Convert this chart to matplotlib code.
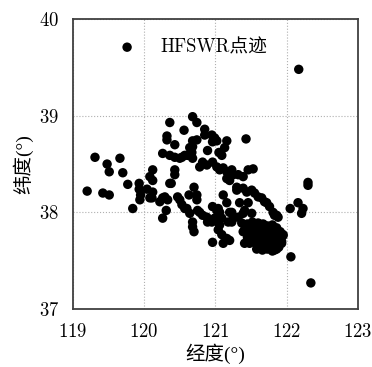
import numpy as np
import matplotlib
matplotlib.use('Agg')
import matplotlib.pyplot as plt

plt.rcParams['font.family'] = ['cmr10', 'Noto Sans CJK SC', 'DejaVu Sans']
plt.rcParams['axes.formatter.use_mathtext'] = True
plt.rcParams['font.size'] = 13.5

# HFSWR plot points (longitude, latitude)
lon = [119.20, 119.31, 119.42, 119.51, 119.48, 119.51, 119.66, 119.70, 119.77, 119.84,
       119.93, 119.93, 119.95, 119.94, 120.04, 120.11, 120.12, 120.08, 120.12, 120.12,
       120.08, 120.26, 120.32, 120.32, 120.36, 120.38, 120.43, 120.36, 120.43, 120.50,
       120.57, 120.56, 120.68, 120.74, 120.85, 120.85, 120.95, 120.99, 120.96, 121.02,
       121.16, 121.43, 120.68, 120.74, 120.68, 120.64, 120.67, 120.61, 120.68, 120.53,
       120.89, 121.05, 121.13, 121.09, 120.43, 120.43, 120.36, 120.82, 120.78, 120.88,
       120.96, 121.02, 121.06, 121.11, 121.16, 121.23, 121.25, 121.32, 121.39, 121.46,
       121.53, 121.16, 121.20, 121.30, 121.39, 121.44, 121.51, 121.55, 121.60, 121.65,
       121.69, 121.76, 121.81, 121.86, 121.72, 121.83, 121.88,
       120.26, 120.33, 120.31, 120.26, 120.22, 120.29, 120.47, 120.63, 120.74, 120.74,
       120.70, 120.53, 120.57, 120.64, 120.50, 120.60, 120.75, 120.82, 120.88, 120.78,
       120.89, 120.96, 121.02, 121.06, 121.04, 120.68, 120.68, 120.70, 121.11, 121.16,
       121.20, 121.25, 121.32, 121.09, 121.18, 120.95, 120.99, 121.02, 121.06, 121.04,
       121.09, 121.16, 121.11, 120.96, 121.20, 121.34, 121.39, 121.37, 121.41, 121.41,
       121.46, 121.41, 121.51, 121.23, 121.23, 121.39, 121.30,
       122.05, 122.16, 122.23, 122.21, 122.30, 122.30, 122.06, 122.34, 122.17,
       121.45, 121.52, 121.60, 121.67, 121.73, 121.80, 121.86,
       121.42, 121.48, 121.55, 121.62, 121.70, 121.77, 121.84, 121.91, 121.95,
       121.45, 121.52, 121.58, 121.66, 121.73, 121.80, 121.87, 121.93,
       121.48, 121.55, 121.62, 121.69, 121.76, 121.83, 121.89,
       121.58, 121.66, 121.73, 121.80, 121.86,
       121.50, 121.64, 121.76, 121.59, 121.73, 121.86, 121.52, 121.70, 121.84,
       121.95, 121.93, 121.83]
lat = [38.22, 38.57, 38.20, 38.18, 38.50, 38.42, 38.56, 38.41, 38.29, 38.04,
       38.30, 38.24, 38.18, 38.13, 38.24, 38.15, 38.44, 38.37, 38.33, 38.21,
       38.15, 38.61, 38.75, 38.79, 38.93, 38.30, 38.70, 38.59, 38.57, 38.56,
       38.59, 38.85, 38.99, 38.93, 38.86, 38.80, 38.80, 38.77, 38.73, 38.74,
       38.74, 38.76, 38.74, 38.75, 38.68, 38.67, 38.62, 38.59, 38.56, 38.57,
       38.64, 38.62, 38.67, 38.59, 38.44, 38.39, 38.30, 38.52, 38.47, 38.49,
       38.52, 38.47, 38.44, 38.46, 38.42, 38.44, 38.39, 38.39, 38.37, 38.44,
       38.45, 38.35, 38.33, 38.26, 38.25, 38.21, 38.23, 38.20, 38.16, 38.15,
       38.11, 38.06, 38.00, 37.97, 38.10, 37.97, 37.95,
       38.15, 38.13, 38.02, 37.94, 38.11, 38.16, 38.16, 38.18, 38.18, 38.13,
       38.26, 38.08, 38.04, 37.99, 38.13, 38.04, 38.02, 37.97, 37.95, 38.00,
       37.90, 38.06, 38.02, 38.00, 38.04, 37.90, 37.85, 37.80, 38.18, 38.10,
       38.00, 37.94, 37.95, 37.94, 37.90, 37.90, 37.94, 37.92, 37.87, 37.82,
       37.77, 37.73, 37.68, 37.69, 37.71, 38.10, 37.99, 37.89, 37.82, 37.68,
       38.10, 38.02, 37.99, 38.00, 37.90, 37.80, 38.23,
       38.04, 38.10, 38.04, 37.99, 38.31, 38.28, 37.54, 37.27, 39.48,
       37.88, 37.90, 37.89, 37.88, 37.86, 37.87, 37.84,
       37.80, 37.82, 37.83, 37.82, 37.81, 37.80, 37.79, 37.80, 37.76,
       37.74, 37.75, 37.76, 37.75, 37.74, 37.73, 37.72, 37.70,
       37.68, 37.69, 37.68, 37.67, 37.66, 37.65, 37.64,
       37.62, 37.61, 37.62, 37.60, 37.62,
       37.86, 37.85, 37.84, 37.79, 37.78, 37.76, 37.71, 37.71, 37.69,
       37.77, 37.68, 37.61]

fig = plt.figure(figsize=(3.72, 3.67), dpi=100)
ax = fig.add_axes([0.196, 0.158, 0.766, 0.79])

ax.scatter(lon, lat, s=46, c='black', edgecolors='none', label='HFSWR点迹', zorder=3)

ax.set_xlim(119, 123)
ax.set_ylim(37, 40)
ax.set_xticks([119, 120, 121, 122, 123])
ax.set_yticks([37, 38, 39, 40])
ax.tick_params(length=0, pad=10)
ax.grid(True, linestyle=':', color='#b0b0b0', linewidth=0.8)
for s in ax.spines.values():
    s.set_color('#404040')
    s.set_linewidth(1.3)

lab_font = ['Liberation Serif', 'Noto Sans CJK SC']
ax.set_xlabel('经度(°)', labelpad=2, family=lab_font, fontsize=14)
ax.set_ylabel('纬度(°)', labelpad=4, family=lab_font, fontsize=14)

ax.legend(loc='upper left', bbox_to_anchor=(0.098, 0.96), borderaxespad=0,
          frameon=False, scatterpoints=1)

plt.savefig('out.png', dpi=100)
